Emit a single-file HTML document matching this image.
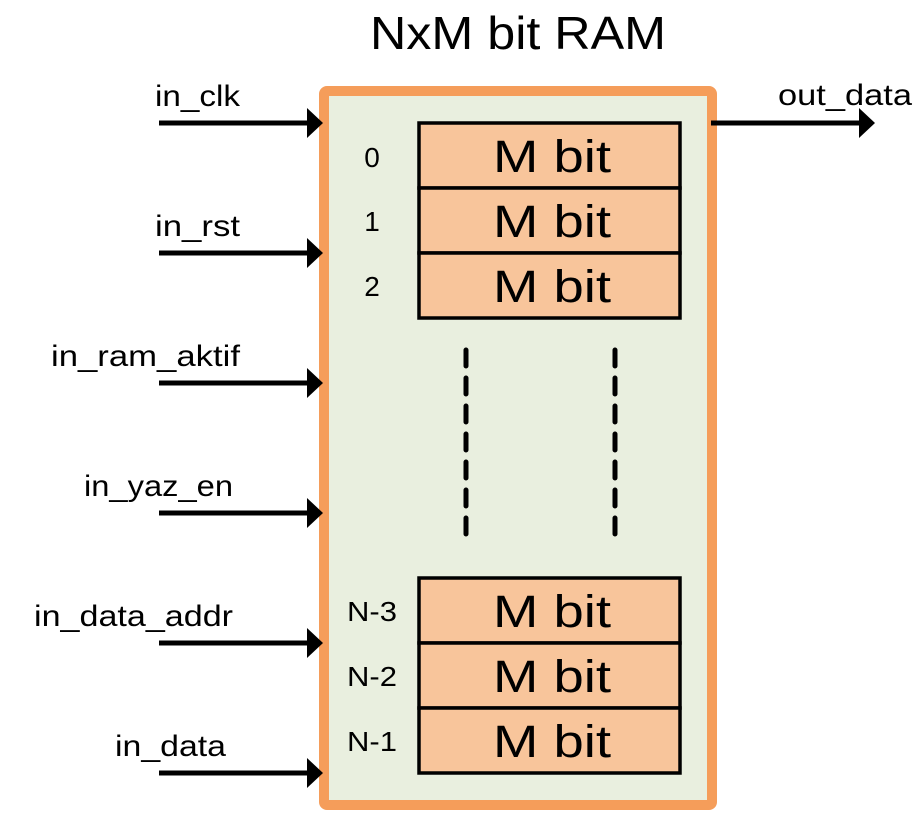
<!DOCTYPE html>
<html><head><meta charset="utf-8"><style>html,body{margin:0;padding:0;background:#fff}svg{display:block}</style></head>
<body>
<svg width="924" height="834" viewBox="0 0 924 834" xmlns="http://www.w3.org/2000/svg" font-family="Liberation Sans, sans-serif">
<text x="518" y="49" font-size="46" text-anchor="middle" textLength="296" lengthAdjust="spacingAndGlyphs">NxM bit RAM</text>
<rect x="324" y="91" width="388" height="714" rx="3" fill="#e9efdf" stroke="#f59d5a" stroke-width="10"/>
<g fill="#f8c59b" stroke="#000" stroke-width="3.5">
<rect x="419" y="123" width="261" height="65"/><rect x="419" y="188" width="261" height="65"/><rect x="419" y="253" width="261" height="65"/>
<rect x="419" y="578" width="261" height="65"/><rect x="419" y="643" width="261" height="65"/><rect x="419" y="708" width="261" height="65"/>
</g>
<g font-size="45" text-anchor="middle">
<text x="552" y="172" textLength="118" lengthAdjust="spacingAndGlyphs">M bit</text>
<text x="552" y="237" textLength="118" lengthAdjust="spacingAndGlyphs">M bit</text>
<text x="552" y="302" textLength="118" lengthAdjust="spacingAndGlyphs">M bit</text>
<text x="552" y="627" textLength="118" lengthAdjust="spacingAndGlyphs">M bit</text>
<text x="552" y="692" textLength="118" lengthAdjust="spacingAndGlyphs">M bit</text>
<text x="552" y="757" textLength="118" lengthAdjust="spacingAndGlyphs">M bit</text>
</g>
<g font-size="28" text-anchor="middle">
<text x="372" y="167">0</text><text x="372" y="231">1</text><text x="372" y="296">2</text>
<text x="372" y="621" textLength="50" lengthAdjust="spacingAndGlyphs">N-3</text>
<text x="372" y="686" textLength="50" lengthAdjust="spacingAndGlyphs">N-2</text>
<text x="372" y="751" textLength="50" lengthAdjust="spacingAndGlyphs">N-1</text>
</g>
<g stroke="#000" stroke-width="5" stroke-linecap="round" stroke-dasharray="16 12">
<line x1="466" y1="350" x2="466" y2="546"/><line x1="615" y1="350" x2="615" y2="546"/>
</g>
<g stroke="#000" stroke-width="5">
<line x1="159" y1="123" x2="310" y2="123"/><line x1="159" y1="253" x2="310" y2="253"/>
<line x1="159" y1="383" x2="310" y2="383"/><line x1="159" y1="513" x2="310" y2="513"/>
<line x1="159" y1="643" x2="310" y2="643"/><line x1="159" y1="773" x2="310" y2="773"/>
<line x1="711" y1="123" x2="862" y2="123"/>
</g>
<g fill="#000">
<polygon points="307,108 323,123 307,138"/><polygon points="307,238 323,253 307,268"/>
<polygon points="307,368 323,383 307,398"/><polygon points="307,498 323,513 307,528"/>
<polygon points="307,628 323,643 307,658"/><polygon points="307,758 323,773 307,788"/>
<polygon points="859,108 875,123 859,138"/>
</g>
<g font-size="30">
<text x="155" y="106" textLength="85" lengthAdjust="spacingAndGlyphs">in_clk</text>
<text x="155" y="236" textLength="85" lengthAdjust="spacingAndGlyphs">in_rst</text>
<text x="51" y="366" textLength="189" lengthAdjust="spacingAndGlyphs">in_ram_aktif</text>
<text x="84" y="496" textLength="149" lengthAdjust="spacingAndGlyphs">in_yaz_en</text>
<text x="34" y="626" textLength="199" lengthAdjust="spacingAndGlyphs">in_data_addr</text>
<text x="115" y="756" textLength="111" lengthAdjust="spacingAndGlyphs">in_data</text>
<text x="778" y="105" textLength="134" lengthAdjust="spacingAndGlyphs">out_data</text>
</g>
</svg>
</body></html>
